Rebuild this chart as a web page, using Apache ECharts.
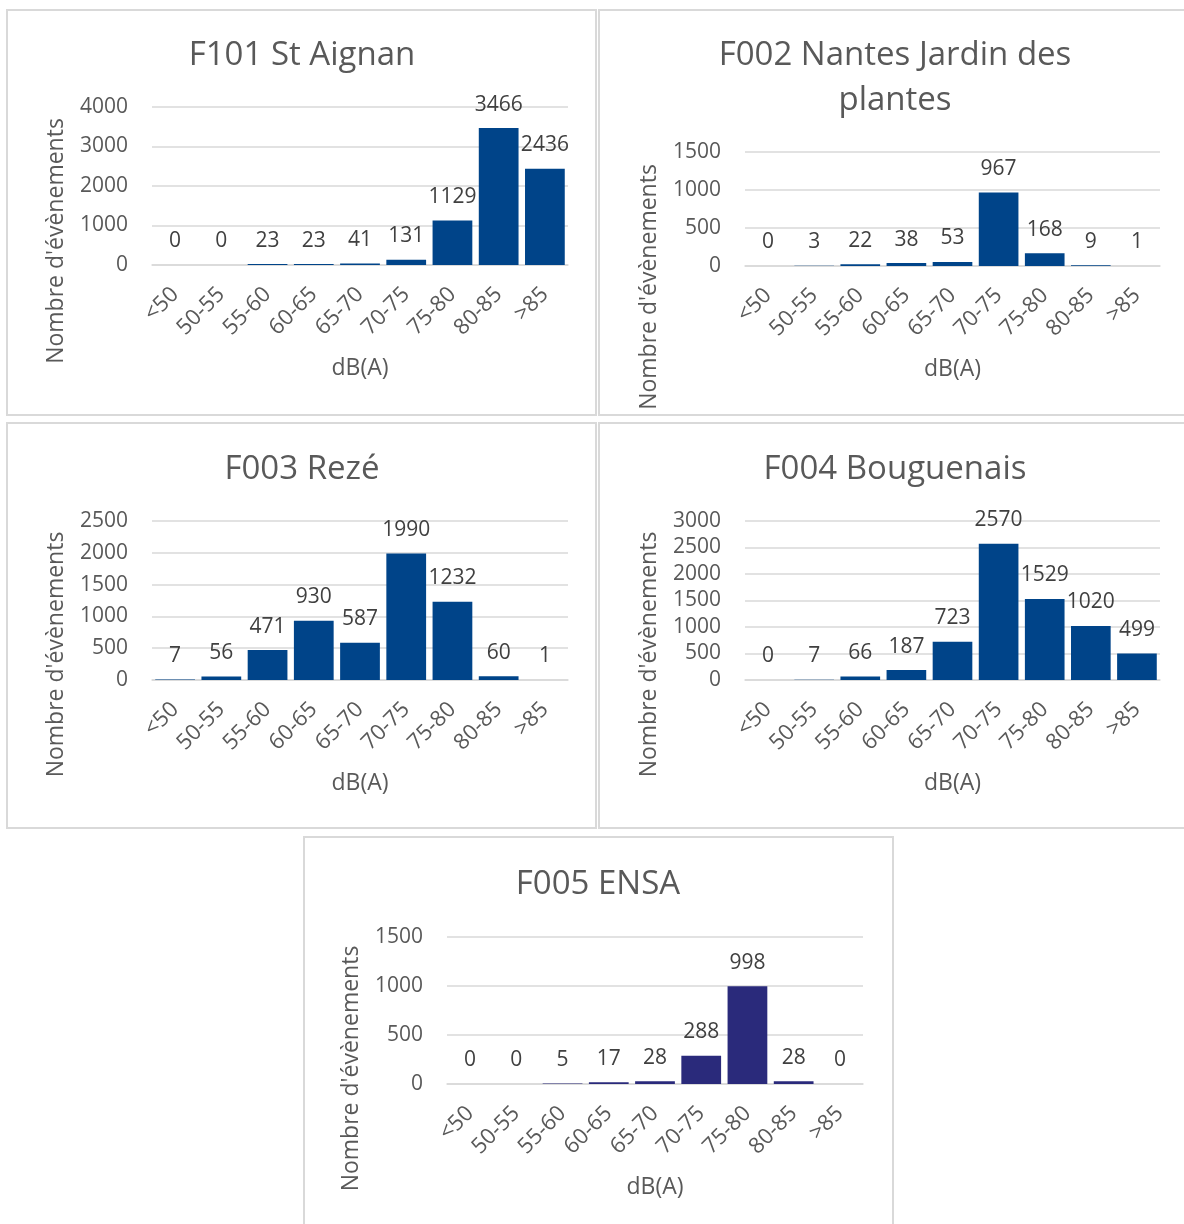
<!DOCTYPE html>
<html>
<head>
<meta charset="utf-8">
<script src="https://cdn.jsdelivr.net/npm/echarts@6/dist/echarts.min.js"></script>
<style>
html,body{margin:0;padding:0;background:#fff;}
#chart{width:1184px;height:1224px;}
</style>
</head>
<body>
<div id="chart"></div>
<script>
const categories = ['<50','50-55','55-60','60-65','65-70','70-75','75-80','80-85','>85'];
const titles = ['F101 St Aignan','F002 Nantes Jardin des\nplantes','F003 Rezé','F004 Bouguenais','F005 ENSA'];
const valuesF101 = [0,0,23,23,41,131,1129,3466,2436];
const valuesF002 = [0,3,22,38,53,967,168,9,1];
const valuesF003 = [7,56,471,930,587,1990,1232,60,1];
const valuesF004 = [0,7,66,187,723,2570,1529,1020,499];
const valuesF005 = [0,0,5,17,28,288,998,28,0];
const yMax = [4000,1500,2500,3000,1500];
const yInterval = [1000,500,500,500,500];
const xAxisTitle = 'dB(A)';
const yAxisTitle = "Nombre d'évènements";

const allValues = [valuesF101,valuesF002,valuesF003,valuesF004,valuesF005];
const barColors = ['#004489','#004489','#004489','#004489','#2a2a7b'];

// layout
const grids = [
  {left:152, top:107, width:416, height:158},
  {left:745, top:152, width:415, height:114},
  {left:152, top:521, width:416, height:159},
  {left:745, top:521, width:415, height:159},
  {left:447, top:937, width:416, height:147}
];
const titlePos = [
  {x:302, y:33},
  {x:895, y:33},
  {x:302, y:447},
  {x:895, y:447},
  {x:598, y:862}
];
const yNameShift = [110,156,108,108,116];
const panels = [
  {x:7,y:10,w:589,h:405},
  {x:599,y:10,w:600,h:405},
  {x:7,y:423,w:589,h:405},
  {x:599,y:423,w:600,h:405},
  {x:304,y:837,w:589,h:420}
];

const FONT = "'Open Sans', sans-serif";
const TXT = '#595959';

const option = {
  animation:false,
  backgroundColor:'#fff',
  textStyle:{fontFamily:FONT},
  graphic: panels.map(p => ({
    type:'rect', silent:true, z:-10,
    shape:{x:p.x,y:p.y,width:p.w,height:p.h},
    style:{fill:'#fff',stroke:'#d9d9d9',lineWidth:2}
  })),
  title: titles.map((t,i) => ({
    text:t, left:titlePos[i].x, top:titlePos[i].y, textAlign:'center', padding:0,
    textStyle:{fontFamily:FONT,fontSize:33,fontWeight:'normal',color:TXT,lineHeight:45}
  })),
  grid: grids.map(g => Object.assign({containLabel:false}, g)),
  xAxis: grids.map((g,i) => ({
    type:'category', gridIndex:i, data:categories,
    axisLine:{show:true,lineStyle:{color:'#d9d9d9',width:1.5}},
    axisTick:{show:false},
    axisLabel:{rotate:45,fontSize:22,color:TXT,margin:26,fontFamily:FONT,interval:0},
    name:xAxisTitle, nameLocation:'middle', nameGap:92,
    nameTextStyle:{fontSize:23,color:TXT,fontFamily:FONT}
  })),
  yAxis: grids.map((g,i) => ({
    type:'value', gridIndex:i, min:0, max:yMax[i], interval:yInterval[i],
    axisLine:{show:false}, axisTick:{show:false},
    splitLine:{lineStyle:{color:'#d9d9d9',width:1.5}},
    axisLabel:{fontSize:21,color:TXT,margin:24,fontFamily:FONT,formatter:v => String(v)},
    name:yAxisTitle, nameLocation:'middle', nameGap:84, nameRotate:90,
    nameTextStyle:{fontSize:23,color:TXT,fontFamily:FONT,padding:[0,yNameShift[i],0,0]}
  })),
  series: allValues.map((vals,i) => ({
    type:'bar', xAxisIndex:i, yAxisIndex:i, data:vals,
    barCategoryGap:'14%',
    itemStyle:{color:barColors[i]},
    label:{show:true,position:'top',distance:13,fontSize:21,color:'#404040',fontFamily:FONT}
  }))
};

const chart = echarts.init(document.getElementById('chart'), null, {renderer:'canvas'});
chart.setOption(option);
</script>
</body>
</html>
